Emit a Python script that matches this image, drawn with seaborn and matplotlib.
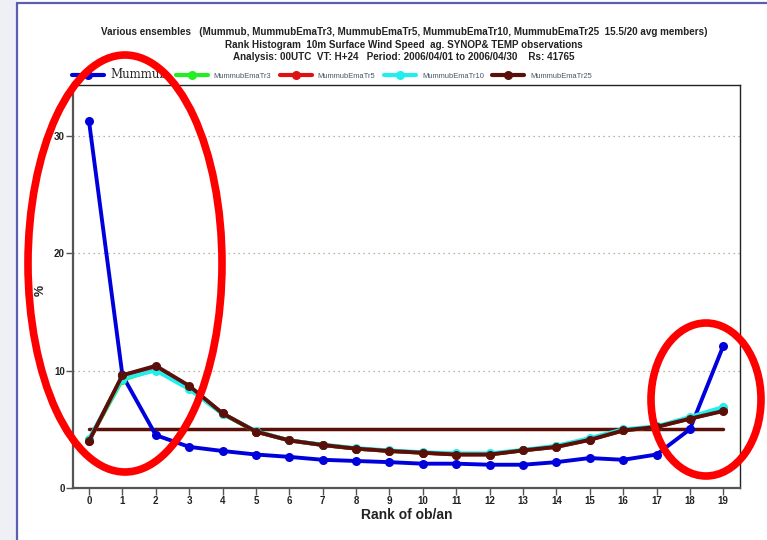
import matplotlib
matplotlib.use("Agg")
import matplotlib.pyplot as plt
import seaborn as sns
import pandas as pd
from matplotlib.patches import Ellipse, Rectangle
from matplotlib.lines import Line2D

# ---------------- data ----------------
ranks = list(range(20))
mummub = [31.2, 9.6, 4.5, 3.5, 3.15, 2.85, 2.65, 2.4, 2.3, 2.2,
          2.07, 2.07, 1.98, 1.98, 2.2, 2.55, 2.4, 2.85, 5.0, 12.1]
ema_tr3 = [4.1, 9.2, 10.1, 8.5, 6.3, 4.8, 4.05, 3.65, 3.35, 3.15,
           3.0, 2.9, 2.9, 3.2, 3.55, 4.15, 4.9, 5.2, 5.95, 6.7]
ema_tr5 = [4.0, 9.5, 10.3, 8.6, 6.35, 4.8, 4.05, 3.66, 3.35, 3.15,
           3.0, 2.85, 2.85, 3.2, 3.5, 4.1, 4.9, 5.2, 5.9, 6.6]
ema_tr10 = [4.2, 9.3, 10.0, 8.4, 6.3, 4.85, 4.05, 3.7, 3.4, 3.2,
            3.05, 2.95, 2.95, 3.25, 3.6, 4.25, 5.0, 5.25, 6.05, 6.9]
ema_tr25 = [4.0, 9.6, 10.4, 8.7, 6.35, 4.8, 4.05, 3.66, 3.35, 3.15,
            3.0, 2.85, 2.85, 3.2, 3.5, 4.1, 4.9, 5.2, 5.9, 6.55]
uniform_level = [5.0] * 20

series_names = ["Mummub", "MummubEmaTr3", "MummubEmaTr5", "MummubEmaTr10", "MummubEmaTr25"]
series_values = [mummub, ema_tr3, ema_tr5, ema_tr10, ema_tr25]
series_colors = ["#0000dd", "#22ee22", "#dd1111", "#22eeee", "#5a1008"]

title_lines = [
    "Various ensembles   (Mummub, MummubEmaTr3, MummubEmaTr5, MummubEmaTr10, MummubEmaTr25  15.5/20 avg members)",
    "Rank Histogram  10m Surface Wind Speed  ag. SYNOP& TEMP observations",
    "Analysis: 00UTC  VT: H+24   Period: 2006/04/01 to 2006/04/30    Rs: 41765",
]
x_label = "Rank of ob/an"
y_label = "%"
y_ticks = [0, 10, 20, 30]

rows = []
for name, vals in zip(series_names, series_values):
    for r, v in zip(ranks, vals):
        rows.append({"rank": r, "pct": v, "ensemble": name})
df = pd.DataFrame(rows)

# ---------------- plot ----------------
sns.set_theme(style="white")
plt.rcParams["font.family"] = ["Liberation Sans", "DejaVu Sans"]

W, H = 767, 540
fig = plt.figure(figsize=(W / 100, H / 100), dpi=100)
fig.patch.set_facecolor("white")

# slide background strip / frame
fig.patches.append(Rectangle((0, 0), 17 / W, 1, transform=fig.transFigure,
                             facecolor="#eef0f6", edgecolor="none", zorder=0))
fig.lines.append(Line2D([17 / W, 17 / W], [0, 1 - 3 / H], transform=fig.transFigure,
                        color="#5b5fb0", lw=1.6))
fig.lines.append(Line2D([17 / W, 1], [1 - 3 / H, 1 - 3 / H], transform=fig.transFigure,
                        color="#5b5fb0", lw=1.6))

ax = fig.add_axes([73 / W, 1 - 488 / H, (740 - 73) / W, (488 - 85) / H])

palette = dict(zip(series_names, series_colors))
for name in series_names:
    sub = df[df["ensemble"] == name]
    sns.lineplot(data=sub, x="rank", y="pct", color=palette[name], marker="o",
                 markersize=6.5, markeredgewidth=0, linewidth=2.8, ax=ax,
                 legend=False, label=name, zorder=3)

sns.lineplot(x=ranks, y=uniform_level, color="#5a1008", linewidth=2.5, ax=ax,
             legend=False, zorder=2)

ax.set_xlim(-0.48, 19.5)
ax.set_ylim(0, 34.3)
ax.set_xticks(ranks)
ax.set_xticklabels([str(r) for r in ranks])
ax.set_yticks(y_ticks)
ax.set_yticklabels([str(t) for t in y_ticks])
for t in y_ticks[1:]:
    ax.axhline(t, color="#a0a080", lw=0.9, ls=(0, (1, 3)), zorder=1)

for s in ["left", "bottom"]:
    ax.spines[s].set_color("#555555")
    ax.spines[s].set_linewidth(1.6)
for s in ["top", "right"]:
    ax.spines[s].set_color("#222222")
    ax.spines[s].set_linewidth(1.0)

ax.tick_params(axis="both", which="both", direction="out", length=5, width=1,
               color="#555555", labelsize=7, pad=1.0, bottom=True, left=True)
for lab in ax.get_xticklabels() + ax.get_yticklabels():
    lab.set_fontweight("bold")
    lab.set_color("#222222")

ax.set_xlabel(x_label, fontsize=10, fontweight="bold", color="#222222", labelpad=1)
ax.set_ylabel(y_label, fontsize=9, fontweight="bold", color="#222222")
ax.yaxis.set_label_coords((47 - 73) / (740 - 73), 0.49)

# titles
for i, line in enumerate(title_lines):
    fig.text(404 / W, 1 - (32 + i * 12.5) / H, line, ha="center", va="center",
             fontsize=7.1, fontweight="bold", color="#222222")

# legend
handles = [Line2D([0], [0], color=c, lw=3, marker="o", markersize=6.5, markeredgewidth=0)
           for c in series_colors]
leg = fig.legend(handles, series_names, loc="center left",
                 bbox_to_anchor=(72 / W, 1 - 74 / H), ncol=5, frameon=False,
                 handlelength=4.3, handletextpad=0.8, columnspacing=1.1,
                 fontsize=5.4, borderaxespad=0, borderpad=0)
for i, txt in enumerate(leg.get_texts()):
    if i == 0:
        txt.set_fontsize(8.5)
        txt.set_family("serif")
    else:
        txt.set_color("#445566")

# red annotation ellipses
fig.patches.append(Ellipse((125 / W, 1 - 263.5 / H), 194 / W, 417 / H,
                           transform=fig.transFigure, fill=False,
                           edgecolor="#ff0000", lw=5.5, zorder=10))
fig.patches.append(Ellipse((706 / W, 1 - 399.5 / H), 110 / W, 153 / H,
                           transform=fig.transFigure, fill=False,
                           edgecolor="#ff0000", lw=5.5, zorder=10))

fig.savefig("out.png", dpi=100)
